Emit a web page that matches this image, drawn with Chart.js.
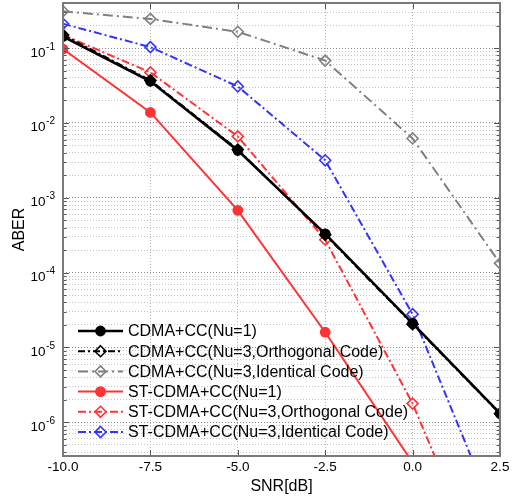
<!DOCTYPE html>
<html>
<head>
<meta charset="utf-8">
<title>ABER vs SNR</title>
<script src="https://cdn.jsdelivr.net/npm/chart.js@4.4.1/dist/chart.umd.min.js"></script>
<style>
  html, body { margin: 0; padding: 0; background: #fff; }
  #wrap { width: 517px; height: 497px; }
</style>
</head>
<body>
<div id="wrap"><canvas id="aberChart" width="517" height="497"></canvas></div>
<script>
// --- data ---
const snrValues = [-10, -7.5, -5, -2.5, 0, 2.5];
const xTickLabels = ['-10.0', '-7.5', '-5.0', '-2.5', '0.0', '2.5'];
const yDecadeExps = [-6, -5, -4, -3, -2, -1];

const seriesNames = [
  'CDMA+CC(Nu=1)',
  'CDMA+CC(Nu=3,Orthogonal Code)',
  'CDMA+CC(Nu=3,Identical Code)',
  'ST-CDMA+CC(Nu=1)',
  'ST-CDMA+CC(Nu=3,Orthogonal Code)',
  'ST-CDMA+CC(Nu=3,Identical Code)'
];
const cdmaNu1    = [0.143, 0.036, 0.0043, 3.3e-4, 2.1e-5, 1.32e-6];
const cdmaOrth   = [0.15, 0.037, 0.0044, 3.2e-4, 2.05e-5, 1.3e-6];
const cdmaIdent  = [0.31, 0.245, 0.165, 0.068, 0.0062, 1.33e-4];
const stNu1      = [0.097, 0.0138, 6.8e-4, 1.6e-5, 2.9e-7, null];
const stOrth     = [0.15, 0.0473, 0.0066, 2.75e-4, 1.78e-6, 3e-9];
const stIdent    = [0.211, 0.103, 0.0307, 0.00317, 2.78e-5, 4e-8];

const Y_MIN = 3.55e-7;
const Y_MAX = 0.4;

const FONT = "'Liberation Sans', Arial, Helvetica, sans-serif";
const RED = 'rgb(255,51,51)';
const BLUE = 'rgb(51,51,255)';
const GRAY = 'rgb(128,128,128)';

function isDecade(v) {
  const l = Math.log10(v);
  return Math.abs(l - Math.round(l)) < 1e-6;
}

function makeSet(label, values, color, dash, shape, filled, width) {
  return {
    label: label,
    data: values,
    borderColor: color,
    borderWidth: width,
    borderDash: dash,
    pointStyle: shape,
    pointRadius: shape === 'circle' ? 4.6 : 5.5,
    pointBorderWidth: 1.6,
    pointBorderColor: color,
    pointBackgroundColor: filled ? color : 'rgba(0,0,0,0)',
    fill: false,
    tension: 0,
    spanGaps: false
  };
}

const datasets = [
  makeSet(seriesNames[0], cdmaNu1, '#000', [], 'circle', true, 2.6),
  makeSet(seriesNames[1], cdmaOrth, '#000', [7, 3, 2, 3], 'rectRot', false, 2),
  makeSet(seriesNames[2], cdmaIdent, GRAY, [10, 4, 2, 4], 'rectRot', false, 2),
  makeSet(seriesNames[3], stNu1, RED, [], 'circle', true, 2),
  makeSet(seriesNames[4], stOrth, RED, [8, 3, 2, 3], 'rectRot', false, 2),
  makeSet(seriesNames[5], stIdent, BLUE, [8, 3, 2, 3], 'rectRot', false, 2)
];

// frame, inward ticks, 10^n labels and the legend
const axisFramePlugin = {
  id: 'axisFrame',
  afterDatasetsDraw(chart) {
    const { ctx, chartArea: a, scales } = chart;
    const xs = scales.x, ys = scales.y;
    ctx.save();
    ctx.strokeStyle = '#555';
    ctx.lineWidth = 1;
    ctx.beginPath();
    ys.ticks.forEach(t => {
      const py = Math.round(ys.getPixelForValue(t.value)) + 0.5;
      const len = isDecade(t.value) ? 6 : 3.5;
      ctx.moveTo(a.left, py); ctx.lineTo(a.left + len, py);
      ctx.moveTo(a.right, py); ctx.lineTo(a.right - len, py);
    });
    xs.ticks.forEach(t => {
      const px = Math.round(xs.getPixelForValue(t.value)) + 0.5;
      ctx.moveTo(px, a.bottom); ctx.lineTo(px, a.bottom - 6);
      ctx.moveTo(px, a.top); ctx.lineTo(px, a.top + 6);
    });
    ctx.stroke();

    ctx.strokeStyle = '#7a7a7a';
    ctx.lineWidth = 2;
    ctx.strokeRect(a.left, a.top, a.width, a.height);

    // y labels: 10 with superscript exponent
    ctx.fillStyle = '#000';
    ctx.textBaseline = 'alphabetic';
    ctx.textAlign = 'right';
    const rightEdge = a.left - 8;
    yDecadeExps.forEach(e => {
      const py = ys.getPixelForValue(Math.pow(10, e));
      const expText = String(e);
      ctx.font = '10px ' + FONT;
      const ew = ctx.measureText(expText).width;
      ctx.fillText(expText, rightEdge, py + 1.5);
      ctx.font = '13.5px ' + FONT;
      ctx.fillText('10', rightEdge - ew - 0.5, py + 8.5);
    });
    ctx.restore();
  },
  afterDraw(chart) {
    const { ctx } = chart;
    const x0 = 78, x1 = 123, textX = 128, top = 331, step = 20.2;
    const cx = (x0 + x1) / 2;
    ctx.save();
    chart.data.datasets.forEach((ds, i) => {
      const y = top + i * step;
      ctx.strokeStyle = ds.borderColor;
      ctx.lineWidth = ds.borderWidth;
      ctx.setLineDash(ds.borderDash);
      ctx.beginPath();
      ctx.moveTo(x0, y); ctx.lineTo(x1, y);
      ctx.stroke();
      ctx.setLineDash([]);

      ctx.fillStyle = ds.pointBackgroundColor;
      ctx.strokeStyle = ds.pointBorderColor;
      ctx.lineWidth = ds.pointBorderWidth;
      ctx.beginPath();
      const r = ds.pointRadius;
      if (ds.pointStyle === 'circle') {
        ctx.arc(cx, y, r, 0, Math.PI * 2);
      } else {
        ctx.moveTo(cx, y - r); ctx.lineTo(cx + r, y); ctx.lineTo(cx, y + r); ctx.lineTo(cx - r, y); ctx.closePath();
      }
      ctx.fill();
      ctx.stroke();

      ctx.fillStyle = '#000';
      ctx.font = '16px ' + FONT;
      ctx.textAlign = 'left';
      ctx.textBaseline = 'middle';
      ctx.fillText(ds.label, textX, y + 1);
    });
    ctx.restore();
  }
};

const ctx = document.getElementById('aberChart');
new Chart(ctx, {
  type: 'line',
  data: {
    datasets: datasets.map(d => ({
      ...d, data: d.data.map((v, i) => ({ x: snrValues[i], y: v }))
    }))
  },
  options: {
    responsive: false,
    animation: false,
    layout: { autoPadding: false, padding: { top: 3, right: 17, left: 0, bottom: 0 } },
    plugins: { legend: { display: false }, tooltip: { enabled: false } },
    scales: {
      x: {
        type: 'linear',
        min: -10,
        max: 2.5,
        afterBuildTicks: scale => {
          scale.ticks = snrValues.map(v => ({ value: v }));
        },
        afterFit: scale => { scale.height = 41; },
        ticks: {
          autoSkip: false,
          maxRotation: 0,
          padding: 3,
          color: '#000',
          font: { family: FONT, size: 13.5 },
          callback: (v, i) => xTickLabels[i]
        },
        grid: { color: '#b5b5b5', lineWidth: 1, drawTicks: false },
        border: { display: false, dash: [1, 2] },
        title: {
          display: true,
          text: 'SNR[dB]',
          color: '#000',
          font: { family: FONT, size: 16 },
          padding: { top: 0, bottom: 1 }
        }
      },
      y: {
        type: 'logarithmic',
        min: Y_MIN,
        max: Y_MAX,
        afterBuildTicks: scale => {
          const list = [];
          for (let e = -7; e <= 0; e++) {
            for (let k = 1; k <= 9; k++) {
              const v = k * Math.pow(10, e);
              if (v >= Y_MIN && v <= Y_MAX) list.push({ value: v, major: k === 1 });
            }
          }
          scale.ticks = list;
        },
        afterFit: scale => { scale.width = 63; },
        ticks: { display: false, autoSkip: false },
        grid: {
          drawTicks: false,
          lineWidth: 1,
          color: c => (c.tick && isDecade(c.tick.value)) ? '#8a8a8a' : '#c4c4c4'
        },
        border: { display: false, dash: [1, 2] },
        title: {
          display: true,
          text: 'ABER',
          color: '#000',
          font: { family: FONT, size: 16 },
          padding: { top: 10, bottom: 0 }
        }
      }
    }
  },
  plugins: [axisFramePlugin]
});
</script>
</body>
</html>
